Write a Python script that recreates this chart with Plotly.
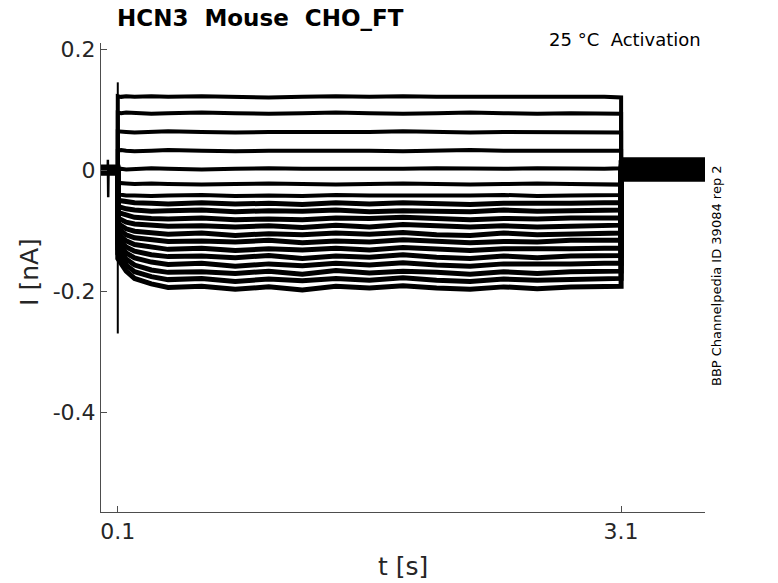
import plotly.graph_objects as go

# ---------------- data ----------------
t_pulse = [0.10, 0.12, 0.15, 0.20, 0.30, 0.40, 0.60, 0.80, 1.00, 1.20,
           1.40, 1.60, 1.80, 2.00, 2.20, 2.40, 2.60, 2.80, 3.00, 3.10]
t_hold = [0.0, 0.10]
t_tail = [3.10, 3.60]

sweeps = [
    [0.122, 0.121, 0.122, 0.121, 0.122, 0.121, 0.122, 0.121, 0.120, 0.121, 0.122, 0.121, 0.122, 0.121, 0.121, 0.122, 0.121, 0.122, 0.121, 0.120],
    [0.095, 0.094, 0.095, 0.094, 0.093, 0.094, 0.095, 0.094, 0.093, 0.094, 0.095, 0.094, 0.093, 0.094, 0.095, 0.094, 0.093, 0.094, 0.093, 0.093],
    [0.064, 0.063, 0.063, 0.062, 0.063, 0.064, 0.063, 0.062, 0.063, 0.063, 0.062, 0.063, 0.064, 0.063, 0.062, 0.063, 0.063, 0.062, 0.063, 0.062],
    [0.032, 0.033, 0.032, 0.031, 0.032, 0.033, 0.032, 0.031, 0.032, 0.032, 0.033, 0.032, 0.031, 0.032, 0.033, 0.032, 0.032, 0.033, 0.032, 0.032],
    [0.001, 0.002, 0.001, 0.002, 0.003, 0.002, 0.001, 0.002, 0.003, 0.002, 0.002, 0.001, 0.002, 0.003, 0.002, 0.002, 0.003, 0.002, 0.002, 0.003],
    [-0.021, -0.022, -0.022, -0.023, -0.022, -0.023, -0.024, -0.023, -0.022, -0.023, -0.024, -0.023, -0.022, -0.023, -0.024, -0.023, -0.022, -0.023, -0.024, -0.024],
    [-0.040, -0.041, -0.042, -0.042, -0.043, -0.042, -0.041, -0.043, -0.042, -0.043, -0.041, -0.042, -0.042, -0.043, -0.042, -0.041, -0.043, -0.042, -0.041, -0.041],
    [-0.050, -0.051, -0.053, -0.054, -0.055, -0.056, -0.054, -0.056, -0.055, -0.057, -0.054, -0.056, -0.054, -0.055, -0.057, -0.055, -0.056, -0.055, -0.054, -0.054],
    [-0.060, -0.062, -0.064, -0.066, -0.068, -0.067, -0.066, -0.069, -0.067, -0.068, -0.066, -0.069, -0.067, -0.068, -0.069, -0.066, -0.068, -0.067, -0.066, -0.066],
    [-0.070, -0.072, -0.075, -0.078, -0.080, -0.081, -0.079, -0.082, -0.081, -0.082, -0.079, -0.080, -0.078, -0.081, -0.082, -0.080, -0.081, -0.079, -0.080, -0.079],
    [-0.079, -0.082, -0.086, -0.089, -0.091, -0.093, -0.092, -0.094, -0.092, -0.095, -0.091, -0.094, -0.090, -0.093, -0.094, -0.092, -0.094, -0.093, -0.091, -0.091],
    [-0.088, -0.092, -0.097, -0.101, -0.104, -0.106, -0.104, -0.108, -0.105, -0.107, -0.104, -0.106, -0.103, -0.107, -0.108, -0.104, -0.107, -0.105, -0.105, -0.104],
    [-0.096, -0.101, -0.107, -0.112, -0.116, -0.118, -0.117, -0.119, -0.116, -0.120, -0.117, -0.119, -0.115, -0.118, -0.120, -0.118, -0.119, -0.116, -0.117, -0.116],
    [-0.105, -0.110, -0.117, -0.123, -0.128, -0.131, -0.129, -0.133, -0.130, -0.132, -0.129, -0.132, -0.128, -0.130, -0.133, -0.130, -0.131, -0.130, -0.129, -0.129],
    [-0.113, -0.119, -0.127, -0.134, -0.140, -0.143, -0.142, -0.145, -0.141, -0.146, -0.142, -0.144, -0.140, -0.144, -0.146, -0.142, -0.145, -0.142, -0.141, -0.141],
    [-0.121, -0.128, -0.137, -0.145, -0.152, -0.156, -0.154, -0.159, -0.155, -0.158, -0.154, -0.157, -0.153, -0.157, -0.159, -0.155, -0.156, -0.155, -0.154, -0.154],
    [-0.130, -0.137, -0.147, -0.157, -0.165, -0.169, -0.168, -0.171, -0.167, -0.172, -0.166, -0.170, -0.167, -0.169, -0.172, -0.168, -0.171, -0.168, -0.167, -0.167],
    [-0.138, -0.146, -0.157, -0.168, -0.176, -0.181, -0.179, -0.184, -0.180, -0.183, -0.179, -0.182, -0.178, -0.182, -0.184, -0.180, -0.182, -0.181, -0.179, -0.179],
    [-0.146, -0.155, -0.167, -0.179, -0.188, -0.194, -0.192, -0.197, -0.193, -0.198, -0.192, -0.195, -0.191, -0.195, -0.197, -0.193, -0.196, -0.193, -0.192, -0.192],
]
hold_levels = [0.004, -0.003, 0.002, -0.004, 0.003, -0.001, 0.001, -0.005, 0.004,
               -0.002, 0.000, 0.003, -0.004, 0.002, -0.003, 0.001, -0.001, 0.005, -0.005]
tail_levels = [0.018, 0.016, 0.014, 0.011, 0.008, 0.006, 0.004, 0.002, 0.000, -0.002,
               -0.004, -0.006, -0.008, -0.010, -0.012, -0.015, 0.012, 0.005, -0.003]

artifact_t = [0.040, 0.041, 0.043, 0.045]
artifact_i = [0.0, 0.017, -0.045, 0.0]
cap_t = [0.1, 0.1]
cap_i = [0.145, -0.27]

x_ticks = [0.1, 3.1]
x_ticktext = ["0.1", "3.1"]
y_ticks = [-0.4, -0.2, 0, 0.2]
y_ticktext = ["-0.4", "-0.2", "0", "0.2"]

# ---------------- figure ----------------
TXT = "#262626"
AX = "#4d4d4d"
fig = go.Figure()

for k, (pulse, h, tl) in enumerate(zip(sweeps, hold_levels, tail_levels)):
    x = list(t_hold) + list(t_pulse) + list(t_tail)
    y = [h, h] + list(pulse) + [tl, tl]
    w = 4.0 if k < 7 else 5.0
    fig.add_trace(go.Scatter(x=x, y=y, mode="lines",
                             line=dict(color="black", width=w),
                             hoverinfo="skip", showlegend=False))

fig.add_trace(go.Scatter(x=artifact_t, y=artifact_i, mode="lines",
                         line=dict(color="black", width=2.5),
                         hoverinfo="skip", showlegend=False))
fig.add_trace(go.Scatter(x=cap_t, y=cap_i, mode="lines",
                         line=dict(color="black", width=2),
                         hoverinfo="skip", showlegend=False))

axis_common = dict(showline=True, linecolor=AX, linewidth=1, ticks="inside",
                   ticklen=6, tickcolor=AX, tickwidth=1, showgrid=False,
                   zeroline=False, mirror=False,
                   tickfont=dict(family="DejaVu Sans", size=22, color=TXT))

fig.update_layout(
    width=778, height=583,
    margin=dict(l=101, r=73, t=43, b=71),
    paper_bgcolor="white", plot_bgcolor="white",
    xaxis=dict(range=[0, 3.6], tickvals=x_ticks, ticktext=x_ticktext, **axis_common),
    yaxis=dict(range=[-0.565, 0.21], tickvals=y_ticks, ticktext=y_ticktext, **axis_common),
)

fig.add_annotation(text="<b>HCN3\u00a0\u00a0Mouse\u00a0\u00a0CHO_FT</b>", xref="paper", yref="paper",
                   x=0.0232, y=1.053, xanchor="left", yanchor="middle", showarrow=False,
                   font=dict(family="DejaVu Sans", size=23, color="black"))
fig.add_annotation(text="25 °C\u00a0\u00a0Activation", xref="paper", yref="paper",
                   x=0.9967, y=1.0064, xanchor="right", yanchor="middle", showarrow=False,
                   font=dict(family="DejaVu Sans", size=18, color="black"))
fig.add_annotation(text="BBP Channelpedia ID 39084 rep 2", xref="paper", yref="paper",
                   x=1.018, y=0.505, xanchor="center", yanchor="middle", showarrow=False,
                   textangle=-90, font=dict(family="DejaVu Sans", size=13, color="black"))
fig.add_annotation(text="I [nA]", xref="paper", yref="paper",
                   x=-0.1175, y=0.512, xanchor="center", yanchor="middle", showarrow=False,
                   textangle=-90, font=dict(family="DejaVu Sans", size=25, color=TXT))
fig.add_annotation(text="t [s]", xref="paper", yref="paper",
                   x=0.50, y=-0.117, xanchor="center", yanchor="middle", showarrow=False,
                   font=dict(family="DejaVu Sans", size=25, color=TXT))

# remove the browser's default 8 px body margin so the figure fills the window
fig.write_html("out.html", config={"displayModeBar": False},
               post_script="document.body.style.margin='0';")
